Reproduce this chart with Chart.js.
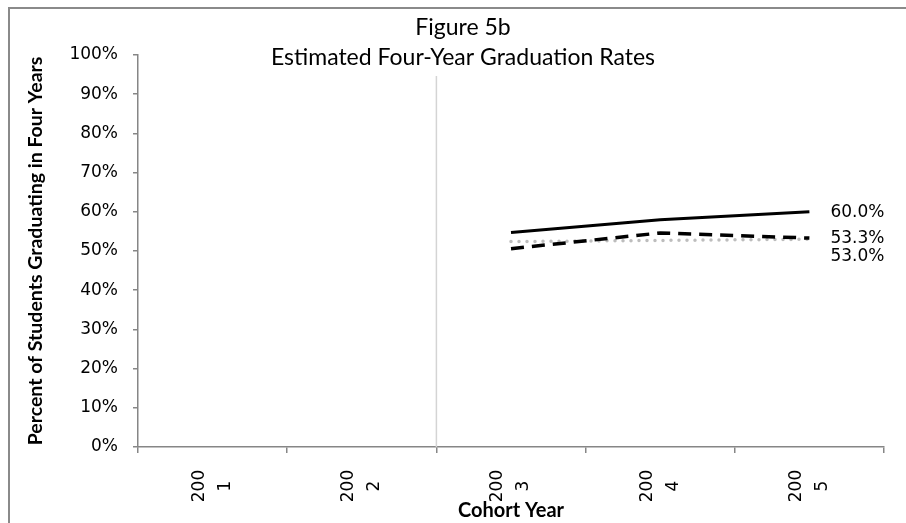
<!DOCTYPE html>
<html>
<head>
<meta charset="utf-8">
<script src="https://cdn.jsdelivr.net/npm/chart.js@4"></script>
<style>
  html, body { margin: 0; padding: 0; background: #fff; }
  #wrap { position: relative; width: 906px; height: 523px; }
  #frame { position: absolute; left: 8px; top: 7px; right: 0; bottom: 0;
           border-left: 2px solid #8a8a8a; border-top: 2px solid #8a8a8a; }
  canvas { position: absolute; left: 0; top: 0; }
</style>
</head>
<body>
<div id="wrap">
  <div id="frame"></div>
  <canvas id="chart" width="906" height="523"></canvas>
</div>
<script>
// Data
const cohortYears = ['2001', '2002', '2003', '2004', '2005'];
const xTickLabels = [['200', '1'], ['200', '2'], ['200', '3'], ['200', '4'], ['200', '5']];
const yTicks = [0, 10, 20, 30, 40, 50, 60, 70, 80, 90, 100];

const solidRates = [null, null, 54.7, 58.0, 60.0];
const dashedRates = [null, null, 50.6, 54.6, 53.3];
const dottedRates = [null, null, 52.4, 52.7, 53.0];

const endLabels = ['60.0%', '53.3%', '53.0%'];
const titleLines = ['Figure 5b', 'Estimated Four-Year Graduation Rates'];

const FONT = 'Lato, "Open Sans", sans-serif';
const NUM_FONT = '"DejaVu Sans", sans-serif';

// Plugins
const chartTitle = {
  id: 'chartTitle',
  afterDraw(chart) {
    const ctx = chart.ctx;
    const cx = chart.width / 2 + 10;
    ctx.save();
    ctx.font = '23px ' + FONT;
    ctx.fillStyle = '#000';
    ctx.textAlign = 'center';
    ctx.textBaseline = 'alphabetic';
    ctx.fillText(titleLines[0], cx, 35);
    ctx.fillText(titleLines[1], cx, 65);
    ctx.restore();
  }
};

const dividerLine = {
  id: 'dividerLine',
  beforeDatasetsDraw(chart) {
    const x = chart.scales.x;
    const y = chart.scales.y;
    const px = (x.getPixelForValue(1) + x.getPixelForValue(2)) / 2;
    const ctx = chart.ctx;
    ctx.save();
    ctx.strokeStyle = '#d4d4d4';
    ctx.lineWidth = 1.5;
    ctx.beginPath();
    ctx.moveTo(px, y.top + 21);
    ctx.lineTo(px, y.bottom);
    ctx.stroke();
    ctx.restore();
  }
};

const xLabels = {
  id: 'xLabels',
  afterDraw(chart) {
    const x = chart.scales.x;
    const ctx = chart.ctx;
    ctx.save();
    ctx.font = '17px ' + NUM_FONT;
    ctx.fillStyle = '#000';
    ctx.textAlign = 'center';
    ctx.textBaseline = 'middle';
    xTickLabels.forEach((lines, i) => {
      ctx.save();
      ctx.translate(x.getPixelForValue(i), x.top + 39);
      ctx.rotate(-Math.PI / 2);
      ctx.fillText(lines[0], 0, -13);
      ctx.fillText(lines[1], 0, 13);
      ctx.restore();
    });
    ctx.restore();
  }
};

const endValueLabels = {
  id: 'endValueLabels',
  afterDatasetsDraw(chart) {
    const ctx = chart.ctx;
    const shifts = [1, 1, 17];
    ctx.save();
    ctx.font = '17px ' + NUM_FONT;
    ctx.fillStyle = '#000';
    ctx.textAlign = 'left';
    ctx.textBaseline = 'middle';
    [0, 1, 2].forEach((d) => {
      const meta = chart.getDatasetMeta(d);
      const pt = meta.data[meta.data.length - 1];
      ctx.fillText(endLabels[d], pt.x + 21, pt.y + shifts[d]);
    });
    ctx.restore();
  }
};

// Render
const ctx = document.getElementById('chart');
new Chart(ctx, {
  type: 'line',
  data: {
    labels: cohortYears,
    datasets: [
      {
        label: 'Solid',
        data: solidRates,
        borderColor: '#000',
        borderWidth: 3,
        pointRadius: 0,
        order: 1
      },
      {
        label: 'Dashed',
        data: dashedRates,
        borderColor: '#000',
        borderWidth: 3.5,
        borderDash: [13, 8],
        pointRadius: 0,
        order: 2
      },
      {
        label: 'Dotted',
        data: dottedRates,
        borderColor: '#bdbdbd',
        borderWidth: 3.5,
        borderDash: [0, 8],
        borderCapStyle: 'round',
        pointRadius: 0,
        order: 3
      }
    ]
  },
  options: {
    responsive: false,
    animation: false,
    layout: { padding: { top: 55, right: 22, bottom: 0, left: 0 } },
    plugins: {
      legend: { display: false },
      tooltip: { enabled: false },
      title: { display: false }
    },
    scales: {
      x: {
        offset: true,
        grid: { offset: true, drawOnChartArea: false, tickLength: 6, color: '#868686', lineWidth: 1.5 },
        border: { color: '#868686', width: 1.5 },
        ticks: { display: false },
        title: {
          display: true,
          text: 'Cohort Year',
          color: '#000',
          font: { family: FONT, size: 20, weight: 'bold' },
          padding: { top: 0, bottom: 0 }
        },
        afterFit: (scale) => { scale.height = 76; }
      },
      y: {
        min: 0,
        max: 100,
        afterBuildTicks: (scale) => { scale.ticks = yTicks.map((v) => ({ value: v })); },
        grid: { drawOnChartArea: false, tickLength: 5, color: '#868686', lineWidth: 1.5 },
        border: { color: '#868686', width: 1.5 },
        ticks: {
          color: '#000',
          padding: 15,
          font: { family: NUM_FONT, size: 17 },
          callback: (v) => v + '%'
        },
        title: {
          display: true,
          text: 'Percent of Students Graduating in Four Years',
          color: '#000',
          font: { family: FONT, size: 19.5, weight: 'bold' },
          padding: { top: 24, bottom: 0 }
        },
        afterFit: (scale) => { scale.width = 138; }
      }
    }
  },
  plugins: [dividerLine, endValueLabels, xLabels, chartTitle]
});
</script>
</body>
</html>
